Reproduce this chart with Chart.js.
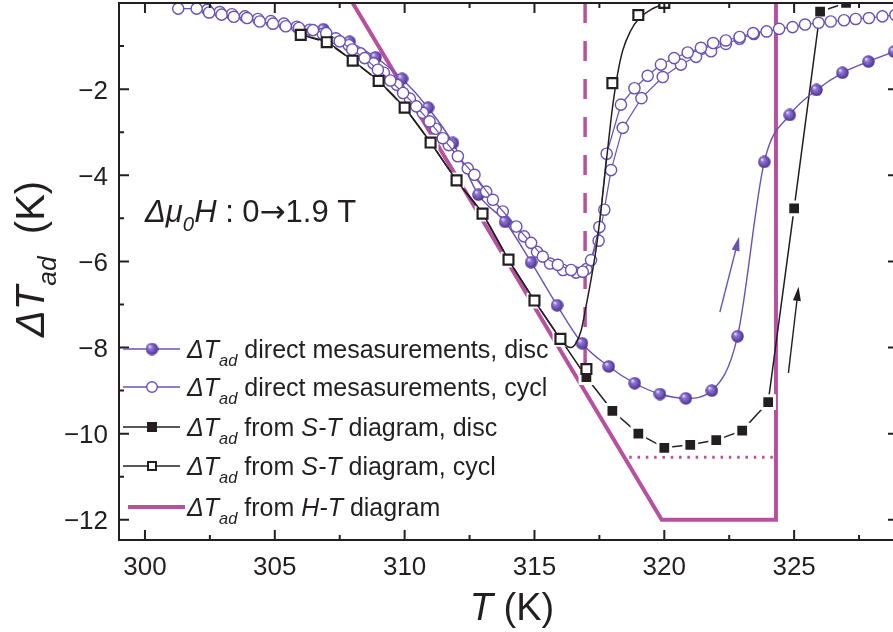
<!DOCTYPE html>
<html>
<head>
<meta charset="utf-8">
<script src="https://cdn.jsdelivr.net/npm/chart.js@4.4.0/dist/chart.umd.min.js"></script>
<style>
  html, body { margin: 0; padding: 0; overflow: hidden; background: #fff; }
  #wrap { width: 900px; height: 632px; }
</style>
</head>
<body>
<div id="wrap"><canvas id="chart"></canvas></div>
<script>
// S-T diagram, cycling (open squares) and discontinuous (filled squares)
const stCyclT = [306, 307, 308, 309, 310, 311, 312, 313, 314, 315, 316, 317, 318, 319, 320];
const stCycl = [-0.74, -0.91, -1.34, -1.81, -2.43, -3.24, -4.12, -4.89, -5.96, -6.91, -7.80, -8.50, -1.86, -0.28, 0.0];
// fitted curve through the cycling points after the minimum
const stCurveT = [316.2, 316.4, 316.6, 316.8, 317.0, 317.2, 317.4, 317.6, 317.8, 318.0, 318.2, 318.4, 318.7, 319.0, 319.5, 320.0];
const stCurve = [-7.95, -8.0, -7.9, -7.6, -7.0, -6.35, -5.6, -4.6, -3.5, -2.45, -1.65, -1.1, -0.65, -0.38, -0.15, -0.02];
const stDiscT = [317, 318, 319, 320, 321, 322, 323, 324, 325, 326, 327];
const stDisc = [-8.69, -9.47, -10.0, -10.33, -10.26, -10.15, -9.93, -9.27, -4.77, -0.20, 0.0];

// direct measurements, discontinuous
const discT = [306.87, 307.88, 308.88, 309.9, 310.9, 311.86, 312.84, 313.87, 314.87, 315.87, 316.83, 317.86,
  318.86, 319.83, 320.83, 321.83, 322.82, 323.85, 324.83, 325.86, 326.86, 327.86, 328.85];
const discDT = [-0.61, -0.90, -1.26, -1.76, -2.43, -3.25, -4.45, -5.08, -6.02, -7.02, -7.90, -8.44,
  -8.83, -9.08, -9.18, -9.00, -7.74, -3.69, -2.60, -2.02, -1.62, -1.36, -1.13];

// direct measurements, cycling: two runs
const cyclAT = [301.28, 301.99, 302.47, 302.95, 303.42, 303.93, 304.42, 304.93, 305.42, 305.93, 306.47, 306.98,
  307.5, 307.98, 308.46, 308.97, 309.45, 309.94, 310.45, 310.96, 311.47, 312.05, 312.69, 313.4, 314.3, 314.87,
  315.32, 315.9, 316.41, 316.86, 317.18, 317.5, 317.78, 318.33, 318.85, 319.36, 319.87, 320.38, 320.9, 321.41,
  321.88, 322.37, 322.9, 323.42, 323.94, 324.42, 324.94, 325.42, 325.94, 326.41, 326.92, 327.37, 327.88, 328.4, 328.9];
const cyclA = [-0.13, -0.13, -0.22, -0.27, -0.32, -0.35, -0.43, -0.48, -0.54, -0.58, -0.63, -0.70,
  -0.89, -1.08, -1.28, -1.55, -1.80, -2.09, -2.40, -2.75, -3.14, -3.56, -3.99, -4.57, -5.19, -5.57,
  -5.89, -6.08, -6.20, -6.24, -5.97, -5.20, -3.50, -2.36, -1.98, -1.69, -1.43, -1.28, -1.15, -1.04,
  -0.93, -0.87, -0.79, -0.70, -0.66, -0.60, -0.56, -0.50, -0.46, -0.43, -0.40, -0.37, -0.35, -0.31, -0.28];
const cyclBT = [302.4, 302.88, 303.35, 303.85, 304.35, 304.85, 305.35, 305.85, 306.35, 306.85, 307.35, 307.85,
  308.3, 308.8, 309.2, 309.7, 310.2, 310.7, 311.2, 311.7, 312.43, 313.14, 313.78, 314.6, 315.1, 315.6,
  316.1, 316.6, 317.0, 317.47, 317.69, 317.95, 318.4, 319.12, 319.94, 320.64, 321.22, 321.8, 322.37, 322.9, 323.45];
const cyclB = [-0.16, -0.21, -0.26, -0.31, -0.37, -0.42, -0.48, -0.55, -0.62, -0.72, -0.82, -0.98,
  -1.17, -1.40, -1.62, -1.90, -2.22, -2.55, -2.92, -3.30, -3.84, -4.38, -4.84, -5.42, -5.78, -6.05,
  -6.20, -6.26, -6.18, -5.52, -4.80, -3.88, -2.90, -2.21, -1.72, -1.43, -1.25, -1.12, -0.95, -0.83, -0.72];

// H-T diagram estimate and its guide lines
const htT = [308.0, 319.9, 324.3, 324.3];
const htDT = [0, -12.0, -12.0, 0];
const dashT = [316.95, 316.95];
const dashDT = [0, -8.6];
const dotT = [318.65, 324.4];
const dotDT = [-10.55, -10.55];

// heating direction arrows [T0, dT0, T1, dT1]
const arrows = [
  { p: [322.14, -7.18, 322.88, -5.43], color: '#6a51b4' },
  { p: [324.78, -8.59, 325.17, -6.59], color: '#231f20' }
];

const xTicks = [300, 305, 310, 315, 320, 325];
const yTicks = [-12, -10, -8, -6, -4, -2];

const legendLabels = [
  [[' direct mesasurements, disc', '']],
  [[' direct mesasurements, cycl', '']],
  [[' from ', ''], ['S-T', 'i'], [' diagram, disc', '']],
  [[' from ', ''], ['S-T', 'i'], [' diagram, cycl', '']],
  [[' from ', ''], ['H-T', 'i'], [' diagram', '']]
];
const fieldNote = [['\u0394\u03bc', 'i'], ['0', 's'], ['H', 'i'], [' : 0', ''], ['\u2192', 'a'], ['1.9 T', '']];
const yTitle = [['\u0394T', 'i'], ['ad', 's'], ['  (K)', '']];
const xTitle = [['T', 'i'], [' (K)', '']];

const FONT = '"Liberation Sans", Arial, Helvetica, sans-serif';
const ARROW_FONT = '"DejaVu Sans", sans-serif';
const INK = '#231f20';
const PURPLE = '#6a51b4';
const MAGENTA = '#b7519f';

const pts = (xs, ys) => xs.map((x, i) => ({ x, y: ys[i] }));

function makeSphere(d) {
  const c = document.createElement('canvas');
  c.width = d; c.height = d;
  const g = c.getContext('2d');
  const r = d / 2;
  const grad = g.createRadialGradient(r * 0.62, r * 0.58, 0.3, r, r, r);
  grad.addColorStop(0, '#f1ebff');
  grad.addColorStop(0.28, '#9176d4');
  grad.addColorStop(0.75, '#6246ac');
  grad.addColorStop(1, '#3f2b7d');
  g.fillStyle = grad;
  g.beginPath();
  g.arc(r, r, r - 0.3, 0, Math.PI * 2);
  g.fill();
  return c;
}
const sphere = makeSphere(13);

function partFont(st, size) {
  if (st === 'a') return size + 'px ' + ARROW_FONT;
  const fs = st === 's' ? size * 0.66 : size;
  return (st ? 'italic ' : '') + fs + 'px ' + FONT;
}

function drawRich(ctx, x, y, parts, size) {
  for (const [text, st] of parts) {
    ctx.font = partFont(st, size);
    ctx.fillText(text, x, st === 's' ? y + size * 0.3 : y);
    x += ctx.measureText(text).width;
  }
  return x;
}

function richWidth(ctx, parts, size) {
  let w = 0;
  for (const [text, st] of parts) {
    ctx.font = partFont(st, size);
    w += ctx.measureText(text).width;
  }
  return w;
}

// frame with inward ticks on all four sides, tick labels, arrows, titles and legend
const framePlugin = {
  id: 'frame',
  afterDatasetsDraw(chart) {
    const { ctx, scales: { x, y } } = chart;
    ctx.save();
    ctx.lineWidth = 1.4;
    for (const a of arrows) {
      const x0 = x.getPixelForValue(a.p[0]), y0 = y.getPixelForValue(a.p[1]);
      const x1 = x.getPixelForValue(a.p[2]), y1 = y.getPixelForValue(a.p[3]);
      const ang = Math.atan2(y1 - y0, x1 - x0);
      ctx.strokeStyle = a.color;
      ctx.fillStyle = a.color;
      ctx.beginPath();
      ctx.moveTo(x0, y0);
      ctx.lineTo(x1 - 8 * Math.cos(ang), y1 - 8 * Math.sin(ang));
      ctx.stroke();
      ctx.beginPath();
      ctx.moveTo(x1, y1);
      ctx.lineTo(x1 - 14 * Math.cos(ang) + 4 * Math.sin(ang), y1 - 14 * Math.sin(ang) - 4 * Math.cos(ang));
      ctx.lineTo(x1 - 14 * Math.cos(ang) - 4 * Math.sin(ang), y1 - 14 * Math.sin(ang) + 4 * Math.cos(ang));
      ctx.closePath();
      ctx.fill();
    }
    ctx.restore();
  },
  afterDraw(chart) {
    const { ctx, chartArea: a, scales: { x, y } } = chart;
    ctx.save();
    ctx.strokeStyle = INK;
    ctx.lineWidth = 2;
    ctx.strokeRect(a.left, a.top, a.right - a.left, a.bottom - a.top);
    ctx.beginPath();
    for (let v = 300; v <= 329; v += 2.5) {
      const px = x.getPixelForValue(v);
      const len = v % 5 === 0 ? 10 : 5;
      ctx.moveTo(px, a.bottom); ctx.lineTo(px, a.bottom - len);
      ctx.moveTo(px, a.top); ctx.lineTo(px, a.top + len);
    }
    for (let v = -12; v < 0; v += 1) {
      const py = y.getPixelForValue(v);
      const len = v % 2 === 0 ? 10 : 5;
      ctx.moveTo(a.left, py); ctx.lineTo(a.left + len, py);
      ctx.moveTo(a.right, py); ctx.lineTo(a.right - len, py);
    }
    ctx.stroke();

    ctx.fillStyle = INK;
    ctx.textBaseline = 'alphabetic';
    ctx.font = '26px ' + FONT;
    ctx.textAlign = 'center';
    xTicks.forEach(v => ctx.fillText(String(v), x.getPixelForValue(v), a.bottom + 35));
    ctx.textAlign = 'right';
    yTicks.forEach(v => ctx.fillText('\u2212' + Math.abs(v), a.left - 11, y.getPixelForValue(v) + 9.5));
    ctx.textAlign = 'left';

    const xw = richWidth(ctx, xTitle, 38);
    drawRich(ctx, 512 - xw / 2, 620, xTitle, 38);
    ctx.save();
    ctx.translate(44, 337);
    ctx.rotate(-Math.PI / 2);
    drawRich(ctx, 0, 0, yTitle, 40);
    ctx.restore();
    drawRich(ctx, 145, 222, fieldNote, 31);

    const rows = [349, 387, 427, 466, 507];
    rows.forEach((ry, i) => {
      ctx.lineWidth = i < 2 ? 1.4 : 1.5;
      ctx.strokeStyle = i < 2 ? PURPLE : INK;
      if (i === 4) {
        ctx.strokeStyle = MAGENTA;
        ctx.lineWidth = 4;
        ctx.beginPath(); ctx.moveTo(128, ry); ctx.lineTo(185, ry); ctx.stroke();
      } else {
        ctx.beginPath(); ctx.moveTo(123, ry); ctx.lineTo(180, ry); ctx.stroke();
      }
      if (i === 0) ctx.drawImage(sphere, 152 - 6.5, ry - 6.5, 13, 13);
      if (i === 1) {
        ctx.fillStyle = '#fff'; ctx.lineWidth = 1.4;
        ctx.beginPath(); ctx.arc(152, ry, 5.3, 0, Math.PI * 2); ctx.fill(); ctx.stroke();
      }
      if (i === 2) { ctx.fillStyle = INK; ctx.fillRect(147, ry - 5, 10, 10); }
      if (i === 3) {
        ctx.fillStyle = '#fff'; ctx.lineWidth = 2;
        ctx.fillRect(148, ry - 4, 8, 8); ctx.strokeRect(148, ry - 4, 8, 8);
      }
      ctx.fillStyle = INK;
      const nx = drawRich(ctx, 187, ry + 9, [['\u0394T', 'i'], ['ad', 's']], 25);
      drawRich(ctx, nx, ry + 9, legendLabels[i], 25);
    });
    ctx.restore();
  }
};

const base = { clip: 0, pointHoverRadius: 0 };

new Chart(document.getElementById('chart'), {
  type: 'line',
  data: {
    datasets: [
      { ...base, data: pts(stCyclT, stCycl), showLine: false, pointStyle: 'rect', pointRadius: 7,
        pointBorderWidth: 2.2, pointBorderColor: INK, pointBackgroundColor: '#fff', order: 1 },
      { ...base, data: pts(stCyclT.slice(0, 11), stCycl.slice(0, 11)).concat(pts(stCurveT, stCurve)),
        borderColor: INK, borderWidth: 1.5, pointRadius: 0, cubicInterpolationMode: 'monotone', order: 2 },
      { ...base, data: pts(cyclAT, cyclA), borderColor: PURPLE, borderWidth: 1.2, pointRadius: 5.6,
        pointBorderWidth: 1.4, pointBorderColor: PURPLE, pointBackgroundColor: '#fff', order: 3 },
      { ...base, data: pts(cyclBT, cyclB), borderColor: PURPLE, borderWidth: 1.2, pointRadius: 5.6,
        pointBorderWidth: 1.4, pointBorderColor: PURPLE, pointBackgroundColor: '#fff', order: 4 },
      { ...base, data: pts(discT, discDT), borderColor: PURPLE, borderWidth: 1.4, pointStyle: sphere,
        pointRadius: 6.5, cubicInterpolationMode: 'monotone', order: 5 },
      { ...base, data: pts(stCyclT.slice(0, 11), stCycl.slice(0, 11)).concat(pts(stDiscT, stDisc)),
        borderColor: INK, borderWidth: 1.5, pointStyle: 'rect', pointRadius: 9, pointBorderWidth: 3,
        pointBorderColor: '#fff', pointBackgroundColor: INK, order: 6 },
      { ...base, data: pts(htT, htDT), borderColor: MAGENTA, borderWidth: 4, pointRadius: 0,
        borderJoinStyle: 'miter', order: 7 },
      { ...base, data: pts(dashT, dashDT), borderColor: MAGENTA, borderWidth: 3.5, borderDash: [20, 18],
        pointRadius: 0, order: 8 },
      { ...base, data: pts(dotT, dotDT), borderColor: MAGENTA, borderWidth: 3, borderDash: [2.5, 5.8],
        pointRadius: 0, order: 9 }
    ]
  },
  options: {
    responsive: true,
    maintainAspectRatio: false,
    animation: false,
    events: [],
    layout: { autoPadding: false, padding: { top: 3, right: 2, left: 0, bottom: 0 } },
    plugins: { legend: { display: false }, tooltip: { enabled: false } },
    scales: {
      x: {
        type: 'linear', min: 299, max: 329,
        ticks: { display: false },
        grid: { display: false }, border: { display: false },
        afterFit(s) { s.height = 92; }
      },
      y: {
        type: 'linear', min: -12.47, max: 0,
        ticks: { display: false },
        grid: { display: false }, border: { display: false },
        afterFit(s) { s.width = 119; }
      }
    }
  },
  plugins: [framePlugin]
});
</script>
</body>
</html>
